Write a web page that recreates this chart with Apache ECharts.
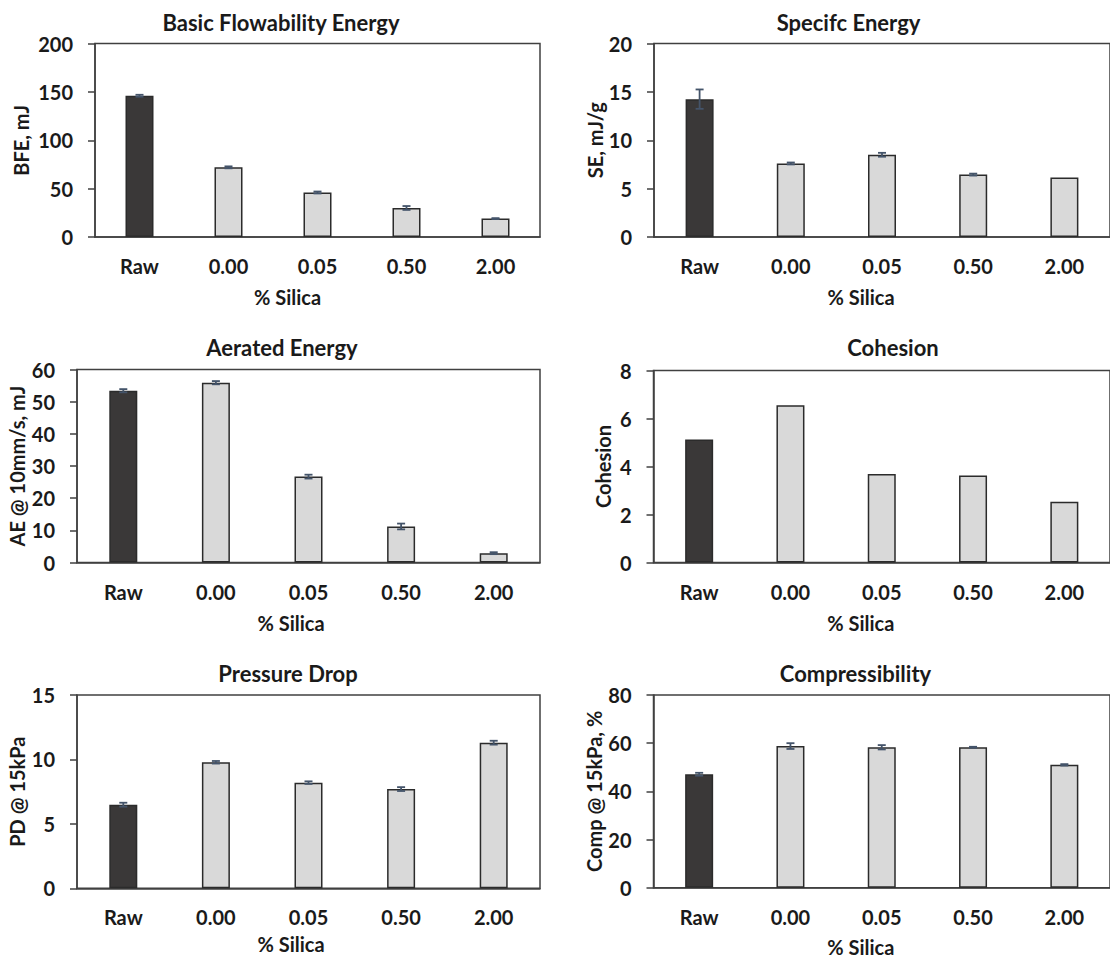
<!DOCTYPE html>
<html>
<head>
<meta charset="utf-8">
<script src="https://cdn.jsdelivr.net/npm/echarts@6/dist/echarts.min.js"></script>
<style>
html,body{margin:0;padding:0;background:#fff;}
#chart{width:1110px;height:958px;}
</style>
</head>
<body>
<div id="chart"></div>
<script>
// ---- data ----
const categories = ['Raw', '0.00', '0.05', '0.50', '2.00'];
const xAxisTitle = '% Silica';

const bfeTitle = 'Basic Flowability Energy';
const bfeAxisName = 'BFE, mJ';
const bfeValues = [146, 72, 46, 30, 19];
const bfeErrors = [1, 1, 1, 2, 0.5];

const seTitle = 'Specifc Energy';
const seAxisName = 'SE, mJ/g';
const seValues = [14.25, 7.6, 8.5, 6.45, 6.15];
const seErrors = [1.0, 0.1, 0.2, 0.1, 0];

const aeTitle = 'Aerated Energy';
const aeAxisName = 'AE @ 10mm/s, mJ';
const aeValues = [53.4, 55.9, 26.7, 11.2, 2.9];
const aeErrors = [0.5, 0.5, 0.6, 0.9, 0.3];

const cohTitle = 'Cohesion';
const cohAxisName = 'Cohesion';
const cohValues = [5.12, 6.55, 3.69, 3.63, 2.53];
const cohErrors = [0, 0, 0, 0, 0];

const pdTitle = 'Pressure Drop';
const pdAxisName = 'PD @ 15kPa';
const pdValues = [6.49, 9.78, 8.2, 7.7, 11.3];
const pdErrors = [0.15, 0.1, 0.1, 0.15, 0.15];

const compTitle = 'Compressibility';
const compAxisName = 'Comp @ 15kPa, %';
const compValues = [47.1, 58.8, 58.3, 58.3, 51];
const compErrors = [0.6, 1.2, 0.9, 0.2, 0.3];

// ---- layout / style ----
const FONT = 'Lato';
const TXT = '#1a1a1a';
const LINE = '#404040';
const DARK = '#3a3838';
const LIGHT = '#d9d9d9';
const ERR = '#44546a';

const panels = [
  {title: bfeTitle, yName: bfeAxisName, values: bfeValues, errors: bfeErrors, max: 200, interval: 50,
   grid: {left: 95, top: 43.5, width: 445, height: 193.5}, tx: 281, ty: 22, nameGap: 50, xPad: 60, yGap: 64},
  {title: seTitle, yName: seAxisName, values: seValues, errors: seErrors, max: 20, interval: 5,
   grid: {left: 654, top: 43.5, width: 463.5, height: 193.5}, tx: 848.5, ty: 22, nameGap: 50, xPad: 42, yGap: 45},
  {title: aeTitle, yName: aeAxisName, values: aeValues, errors: aeErrors, max: 60, interval: 10,
   grid: {left: 77, top: 369.5, width: 463, height: 193}, tx: 282, ty: 347, nameGap: 50, xPad: 35, yGap: 50},
  {title: cohTitle, yName: cohAxisName, values: cohValues, errors: cohErrors, max: 8, interval: 2,
   grid: {left: 653.5, top: 370.5, width: 464, height: 192}, tx: 893, ty: 347.5, nameGap: 50, xPad: 42, yGap: 41},
  {title: pdTitle, yName: pdAxisName, values: pdValues, errors: pdErrors, max: 15, interval: 5,
   grid: {left: 77, top: 695, width: 463, height: 193.3}, tx: 288, ty: 673.5, nameGap: 46, xPad: 35, yGap: 50},
  {title: compTitle, yName: compAxisName, values: compValues, errors: compErrors, max: 80, interval: 20,
   grid: {left: 653.5, top: 695, width: 464, height: 192.7}, tx: 855.5, ty: 673, nameGap: 49, xPad: 42, yGap: 48}
];

const option = {
  animation: false,
  backgroundColor: '#fff',
  textStyle: {fontFamily: FONT},
  title: [], grid: [], xAxis: [], yAxis: [], series: []
};

panels.forEach((p, i) => {
  option.title.push({
    text: p.title, left: p.tx, top: p.ty, textAlign: 'center', textVerticalAlign: 'middle', padding: 0,
    textStyle: {fontFamily: FONT, fontWeight: 'bold', fontSize: 22, color: TXT}
  });
  option.grid.push(Object.assign({show: true, borderColor: LINE, borderWidth: 1.5, backgroundColor: 'transparent'}, p.grid));
  option.xAxis.push({
    type: 'category', gridIndex: i, data: categories,
    name: xAxisTitle, nameLocation: 'middle', nameGap: p.nameGap,
    nameTextStyle: {fontFamily: FONT, fontWeight: 'bold', fontSize: 20, color: TXT, padding: [0, p.xPad, 0, 0]},
    axisLine: {lineStyle: {color: LINE, width: 1.5}},
    axisTick: {show: false},
    axisLabel: {margin: 19, fontFamily: FONT, fontWeight: 'bold', fontSize: 20, color: TXT}
  });
  option.yAxis.push({
    type: 'value', gridIndex: i, min: 0, max: p.max, interval: p.interval,
    name: p.yName, nameLocation: 'middle', nameGap: p.yGap,
    nameTextStyle: {fontFamily: FONT, fontWeight: 'bold', fontSize: 20, color: TXT},
    axisLine: {show: true, lineStyle: {color: LINE, width: 1.5}},
    axisTick: {show: true, length: 7, lineStyle: {color: LINE, width: 1.5}},
    splitLine: {show: false},
    axisLabel: {margin: 22, fontFamily: FONT, fontWeight: 'bold', fontSize: 20, color: TXT}
  });
  option.series.push({
    type: 'bar', xAxisIndex: i, yAxisIndex: i, barWidth: 28,
    data: p.values.map((v, k) => ({value: v, itemStyle: {color: k === 0 ? DARK : LIGHT}})),
    itemStyle: {borderColor: '#2b2b2b', borderWidth: 1.5}
  });
  option.series.push({
    type: 'custom', xAxisIndex: i, yAxisIndex: i, z: 5,
    data: p.values.map((v, k) => [k, v - p.errors[k], v + p.errors[k], p.errors[k]]),
    renderItem: function (params, api) {
      if (api.value(3) <= 0) return null;
      const lo = api.coord([api.value(0), api.value(1)]);
      const hi = api.coord([api.value(0), api.value(2)]);
      const hw = 4;
      const st = {stroke: ERR, lineWidth: 1.8};
      return {type: 'group', children: [
        {type: 'line', shape: {x1: lo[0], y1: lo[1], x2: hi[0], y2: hi[1]}, style: st},
        {type: 'line', shape: {x1: lo[0] - hw, y1: lo[1], x2: lo[0] + hw, y2: lo[1]}, style: st},
        {type: 'line', shape: {x1: hi[0] - hw, y1: hi[1], x2: hi[0] + hw, y2: hi[1]}, style: st}
      ]};
    }
  });
});

const chart = echarts.init(document.getElementById('chart'), null, {renderer: 'svg'});
chart.setOption(option);
</script>
</body>
</html>
